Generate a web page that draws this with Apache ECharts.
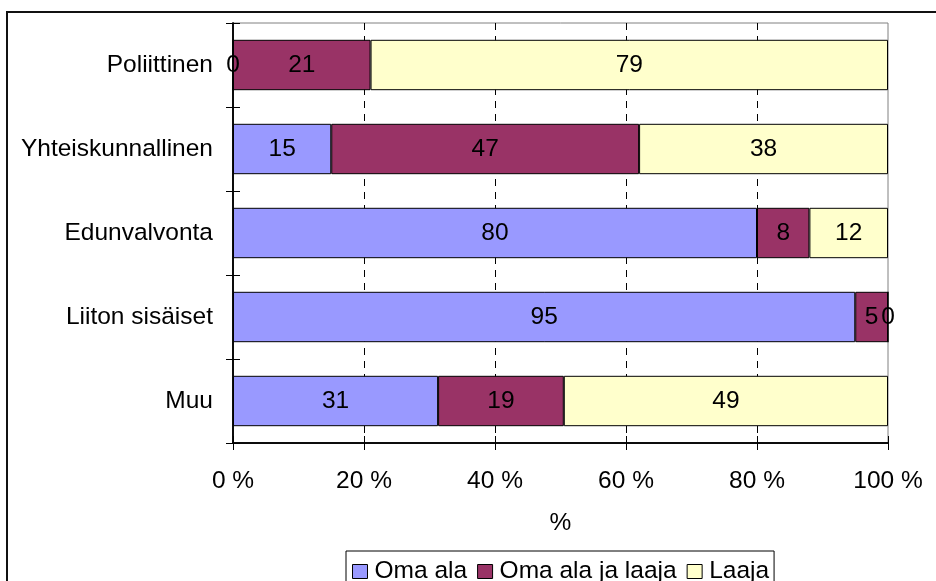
<!DOCTYPE html>
<html>
<head>
<meta charset="utf-8">
<script src="https://cdn.jsdelivr.net/npm/echarts@6/dist/echarts.min.js"></script>
<style>
  html, body { margin: 0; padding: 0; background: #fff; }
  #chart { width: 936px; height: 581px; }
</style>
</head>
<body>
<div id="chart"></div>
<script>
// kategoriat ylhäältä alas
var categories = ['Poliittinen', 'Yhteiskunnallinen', 'Edunvalvonta', 'Liiton sisäiset', 'Muu'];
var omaAla = [0, 15, 80, 95, 31];
var omaAlaJaLaaja = [21, 47, 8, 5, 19];
var laaja = [79, 38, 12, 0, 49];
var seriesNames = ['Oma ala', 'Oma ala ja laaja', 'Laaja'];
var xTicks = [0, 20, 40, 60, 80, 100];

var font = 'Liberation Sans, Arial, sans-serif';
var fs = 24.5;
var raw = [omaAla, omaAlaJaLaaja, laaja];
var colors = ['#9999ff', '#993366', '#ffffcc'];

// 100 % pinottu: osuus rivin summasta
var totals = categories.map(function (c, i) {
    return omaAla[i] + omaAlaJaLaaja[i] + laaja[i];
});

var chart = echarts.init(document.getElementById('chart'));

var series = raw.map(function (arr, s) {
    return {
        name: seriesNames[s],
        type: 'bar',
        stack: 'total',
        barCategoryGap: '40%',
        data: arr.map(function (v, i) { return v / totals[i] * 100; }),
        itemStyle: { color: colors[s], borderColor: '#000', borderWidth: 1 },
        label: {
            show: true,
            position: 'inside',
            color: '#000',
            fontFamily: font,
            fontSize: fs,
            formatter: function (p) { return arr[p.dataIndex]; }
        }
    };
});

var gridBox = { left: 233, right: 48, top: 23, bottom: 138 };

chart.setOption({
    animation: false,
    color: colors,
    graphic: [{
        type: 'rect',
        shape: { x: 7, y: 12, width: 940, height: 600 },
        style: { fill: 'none', stroke: '#111', lineWidth: 2 },
        z: 100
    }],
    legend: {
        left: 346,
        top: 551,
        orient: 'horizontal',
        icon: 'rect',
        itemWidth: 15,
        itemHeight: 14,
        itemGap: 10,
        padding: [8, 5, 8, 6],
        borderColor: '#000',
        borderWidth: 1,
        itemStyle: { borderColor: '#000', borderWidth: 1 },
        textStyle: { color: '#000', fontFamily: font, fontSize: fs, padding: [0, 0, 0, 2] },
        data: seriesNames
    },
    grid: [
        Object.assign({ show: true, borderColor: '#808080', borderWidth: 1 }, gridBox),
        // toinen ruudukko ristikkäisiä merkkejä varten
        Object.assign({ show: false }, gridBox)
    ],
    xAxis: [{
        type: 'value',
        min: 0,
        max: 100,
        interval: 20,
        name: '%',
        nameLocation: 'middle',
        nameGap: 68,
        nameTextStyle: { color: '#000', fontFamily: font, fontSize: fs },
        axisLine: { show: true, lineStyle: { color: '#000', width: 1.5 } },
        axisTick: { show: true, length: 7, lineStyle: { color: '#000' } },
        axisLabel: {
            color: '#000', fontFamily: font, fontSize: fs, margin: 26,
            formatter: function (v) { return xTicks.indexOf(v) >= 0 ? v + ' %' : ''; }
        },
        splitLine: {
            show: true,
            showMinLine: false,
            showMaxLine: false,
            lineStyle: { color: '#000', type: [7, 6], width: 1 }
        }
    }, {
        gridIndex: 1,
        show: true,
        type: 'value', min: 0, max: 100, interval: 20, position: 'bottom',
        axisLine: { show: true, lineStyle: { color: '#000', width: 1.5 } },
        axisTick: { show: true, inside: true, length: 7, lineStyle: { color: '#000', width: 1 } },
        axisLabel: { show: false },
        splitLine: { show: false },
        z: 10
    }],
    yAxis: [{
        type: 'category',
        inverse: true,
        data: categories,
        axisLine: { show: true, lineStyle: { color: '#000', width: 1.5 } },
        axisTick: { show: true, length: 7, lineStyle: { color: '#000' } },
        axisLabel: { color: '#000', fontFamily: font, fontSize: fs, margin: 20 }
    }, {
        gridIndex: 1,
        show: true,
        type: 'category',
        inverse: true,
        position: 'left',
        data: categories,
        axisLine: { show: true, lineStyle: { color: '#000', width: 1.5 } },
        axisTick: { show: true, inside: true, length: 7, lineStyle: { color: '#000', width: 1 } },
        axisLabel: { show: false },
        z: 10
    }],
    series: series.concat([{
        // tyhjä sarja toiselle ruudukolle, jotta sen akselit piirretään
        type: 'bar',
        xAxisIndex: 1,
        yAxisIndex: 1,
        data: [],
        silent: true
    }])
});
</script>
</body>
</html>
